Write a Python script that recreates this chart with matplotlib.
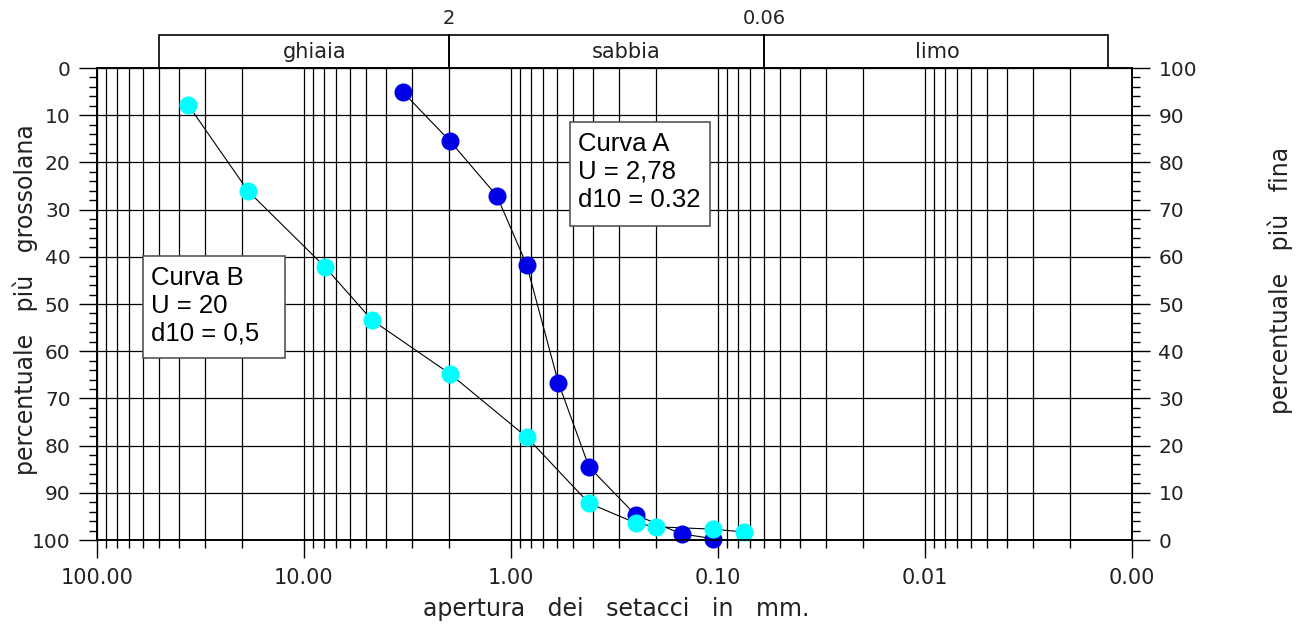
import numpy as np
import matplotlib
matplotlib.use('Agg')
import matplotlib.pyplot as plt
import matplotlib.transforms as mtransforms
from matplotlib.patches import Rectangle
from matplotlib.ticker import LogLocator, FormatStrFormatter, MultipleLocator, NullFormatter

# dati: apertura setacci (mm) e percentuale piu' grossolana
sieve_a = [3.33, 1.97, 1.17, 0.84, 0.59, 0.42, 0.25, 0.15, 0.106]
coarse_a = [5.1, 15.5, 27.1, 41.7, 66.7, 84.5, 94.7, 98.7, 99.7]
sieve_b = [36.3, 18.6, 7.9, 4.7, 1.97, 0.84, 0.42, 0.25, 0.2, 0.106, 0.075]
coarse_b = [7.8, 26.1, 42.2, 53.4, 64.8, 78.2, 92.2, 96.4, 97.2, 97.7, 98.3]

# fasce granulometriche
zone_names = ['ghiaia', 'sabbia', 'limo']
zone_from = [50, 2, 0.06]
zone_to = [2, 0.06, 0.0013]
zone_text_x = [8.85, 0.278, 0.00875]
bound_labels = ['2', '0.06']
bound_values = [2, 0.06]

text_a = 'Curva A\nU = 2,78\nd10 = 0.32'
text_b = 'Curva B\nU = 20\nd10 = 0,5'

W, H = 1297, 626
plt.rcParams['font.family'] = ['DejaVu Sans']
fig = plt.figure(figsize=(W / 100, H / 100), dpi=100)
ax = fig.add_axes([97 / W, (H - 540) / H, 1035 / W, 472 / H])

def fx(x):
    return x / W

def fy(y):
    return 1 - y / H

tcol = '#222222'

ax.set_xscale('log')
ax.set_xlim(100, 0.001)
ax.set_ylim(100, 0)
ax.xaxis.set_major_locator(LogLocator(base=10, numticks=50))
ax.xaxis.set_minor_locator(LogLocator(base=10, subs=np.arange(2, 10), numticks=50))
ax.xaxis.set_major_formatter(FormatStrFormatter('%.2f'))
ax.xaxis.set_minor_formatter(NullFormatter())
ax.yaxis.set_major_locator(MultipleLocator(10))
ax.yaxis.set_minor_locator(MultipleLocator(2))

ax.grid(which='major', axis='both', color='k', lw=0.9)
ax.grid(which='minor', axis='x', color='k', lw=0.9)
ax.set_axisbelow(True)
ax.tick_params(which='major', direction='out', length=13, width=1, labelsize=14.5,
               labelcolor=tcol, pad=6)
ax.tick_params(which='minor', direction='out', length=6, width=1)
ax.tick_params(axis='x', which='major', labelsize=15, pad=7)
for s in ax.spines.values():
    s.set_linewidth(1.2)

ax2 = ax.twinx()
ax2.set_ylim(0, 100)
ax2.yaxis.set_major_locator(MultipleLocator(10))
ax2.yaxis.set_minor_locator(MultipleLocator(2))
ax2.tick_params(which='major', direction='out', length=13, width=1, labelsize=14.5,
                labelcolor=tcol, pad=6)
ax2.tick_params(which='minor', direction='out', length=6, width=1)
for s in ax2.spines.values():
    s.set_linewidth(1.2)

# curve
ax.plot(sieve_a, coarse_a, color='k', lw=0.8, zorder=3)
ax.plot(sieve_b, coarse_b, color='k', lw=0.8, zorder=3)
ax.plot(sieve_a, coarse_a, 'o', color='#0000e6', ms=13, mec='none', zorder=4, clip_on=False)
ax.plot(sieve_b, coarse_b, 'o', color='#00ffff', ms=13, mec='none', zorder=5, clip_on=False)

# fascia superiore
trans = mtransforms.blended_transform_factory(ax.transData, ax.transAxes)
band_h = 33 / 472
for name, x0, x1, xt in zip(zone_names, zone_from, zone_to, zone_text_x):
    ax.add_patch(Rectangle((x1, 1.0), x0 - x1, band_h, transform=trans, fill=False,
                           lw=1.2, ec='k', clip_on=False))
    ax.text(xt, 1 + band_h / 2, name, transform=trans, ha='center', va='center',
            fontsize=15, color=tcol)
for lab, v in zip(bound_labels, bound_values):
    ax.text(v, 1 + 49 / 472, lab, transform=trans, ha='center', va='center',
            fontsize=14, color=tcol)

# riquadri
for txt, (x0, y0, x1, y1) in [(text_a, (570, 122, 710, 226)), (text_b, (143, 256, 285, 358))]:
    fig.add_artist(Rectangle((fx(x0), fy(y1)), fx(x1) - fx(x0), fy(y0) - fy(y1),
                             transform=fig.transFigure, fc='white', ec='#555555', lw=1.2, zorder=6))
    fig.text(fx(x0 + 8), fy(y0 + 10), txt, ha='left', va='top', fontsize=18.5,
             family='Liberation Sans', linespacing=1.2, zorder=7)

fig.text(fx(616), fy(609), 'apertura   dei   setacci   in   mm.', ha='center', va='center',
         fontsize=17, color=tcol)
fig.text(fx(25), fy(300), 'percentuale   più   grossolana', ha='center', va='center',
         rotation=90, fontsize=17, color=tcol)
fig.text(fx(1280), fy(280), 'percentuale   più   fina', ha='center', va='center',
         rotation=90, fontsize=17, color=tcol)

fig.savefig('out.png', dpi=100)
